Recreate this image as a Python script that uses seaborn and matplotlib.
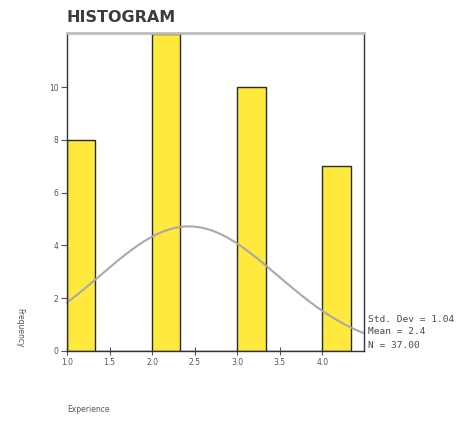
import numpy as np
import pandas as pd
import seaborn as sns
import matplotlib
matplotlib.use("Agg")
import matplotlib.pyplot as plt

# Experience levels and how many respondents fall in each
levels = [1, 2, 3, 4]
counts = [8, 12, 10, 7]
x_ticks = [1.0, 1.5, 2.0, 2.5, 3.0, 3.5, 4.0]
y_ticks = [0, 2, 4, 6, 8, 10]
stats_lines = ["Std. Dev = 1.04", "Mean = 2.4", "N = 37.00"]

sns.set_theme(style="white")
plt.rcParams["font.family"] = ["DejaVu Sans"]

df = pd.DataFrame({"Experience": levels, "count": counts})
bin_w = 1 / 3
edges = []
for lv in levels:
    edges += [lv, lv + bin_w]

fig = plt.figure(figsize=(4.58, 4.21), dpi=100)
ax = fig.add_axes([67 / 458, 1 - 351 / 421, (364 - 67) / 458, (351 - 33) / 421])

sns.histplot(data=df, x="Experience", weights="count", bins=edges, ax=ax,
             color="#ffe93c", edgecolor="#2a2a2a", linewidth=1.0, alpha=1.0)

# normal curve scaled to the frequency of one bin
vals = np.repeat(levels, counts)
mu, sd, n = vals.mean(), vals.std(ddof=1), len(vals)
xs = np.linspace(1.0, 4.48, 200)
ys = n * bin_w * np.exp(-0.5 * ((xs - mu) / sd) ** 2) / (sd * np.sqrt(2 * np.pi))
sns.lineplot(x=xs, y=ys, ax=ax, color="#a9a9a9", linewidth=1.5, clip_on=False)

ax.set_xlim(1.0, 4.49)
ax.set_ylim(0, 12.05)
ax.set_xticks(x_ticks)
ax.set_xticklabels([f"{t:.1f}" for t in x_ticks])
ax.set_yticks(y_ticks)
ax.tick_params(axis="both", labelsize=5.5, colors="#555555", length=4, width=0.8,
               direction="out", bottom=True, left=True, pad=2)
ax.tick_params(axis="x", direction="inout", length=6)
ax.set_xlabel("")
ax.set_ylabel("")

for side in ["left", "bottom", "right"]:
    ax.spines[side].set_color("#333333")
    ax.spines[side].set_linewidth(1.0)
ax.spines["top"].set_color("#bdbdbd")
ax.spines["top"].set_linewidth(2.0)

fig.text(67 / 458, 1 - 17 / 421, "HISTOGRAM", fontsize=11.5, fontweight="bold",
         color="#3c3c3c", ha="left", va="center")
fig.text(67 / 458, 1 - 410 / 421, "Experience", fontsize=5.5, color="#555555",
         ha="left", va="center")
fig.text(20 / 458, 1 - 328 / 421, "Frequency", fontsize=5.5, color="#555555",
         rotation=270, ha="center", va="center")

for i, line in enumerate(stats_lines):
    fig.text(368 / 458, 1 - (319 + 13 * i) / 421, line, fontsize=6.8,
             family="DejaVu Sans Mono", color="#4a4a4a", ha="left", va="center")

fig.savefig("out.png", dpi=100)
